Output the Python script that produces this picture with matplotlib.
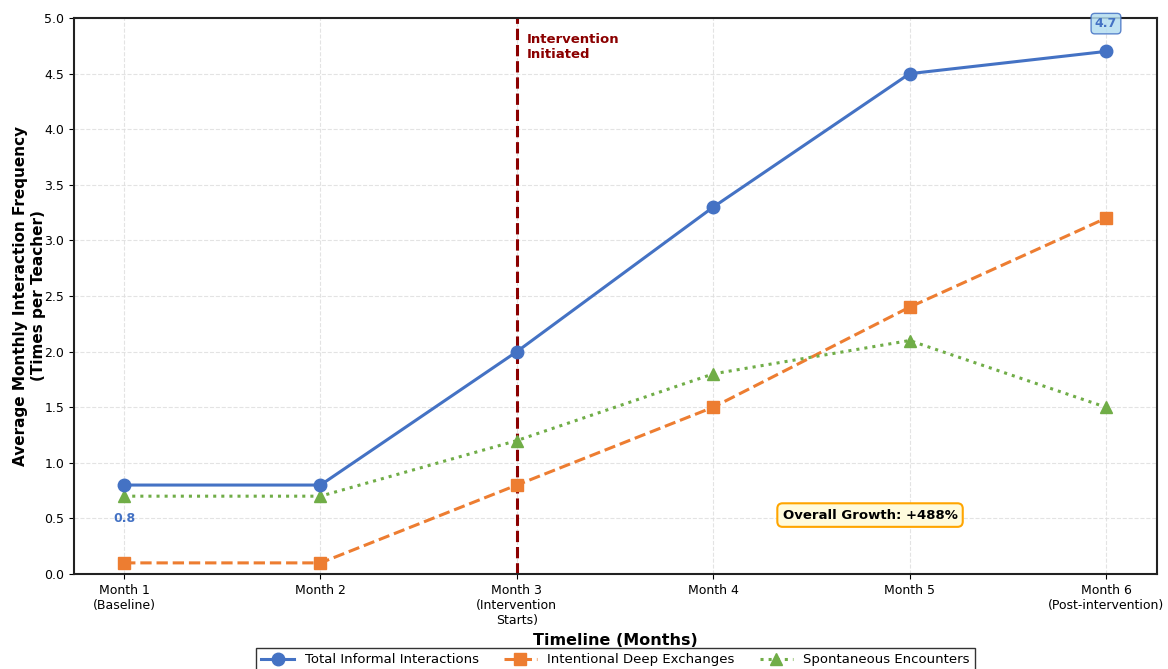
import matplotlib
matplotlib.use("Agg")
import matplotlib.pyplot as plt

# Dane
months = ["Month 1\n(Baseline)", "Month 2", "Month 3\n(Intervention\nStarts)",
          "Month 4", "Month 5", "Month 6\n(Post-intervention)"]
total = [0.8, 0.8, 2.0, 3.3, 4.5, 4.7]
deep = [0.1, 0.1, 0.8, 1.5, 2.4, 3.2]
spontaneous = [0.7, 0.7, 1.2, 1.8, 2.1, 1.5]

x = list(range(len(months)))

fig = plt.figure(figsize=(11.68, 6.69), dpi=100)
ax = fig.add_axes([0.0634, 0.142, 0.9272, 0.831])

ax.plot(x, total, color="#4472C4", linewidth=2.2, marker="o", markersize=9,
        label="Total Informal Interactions", zorder=4)
ax.plot(x, deep, color="#ED7D31", linewidth=2.2, linestyle="--", marker="s",
        markersize=8, label="Intentional Deep Exchanges", zorder=3)
ax.plot(x, spontaneous, color="#70AD47", linewidth=2.2, linestyle=":", marker="^",
        markersize=8, label="Spontaneous Encounters", zorder=3)

# Linia interwencji
ax.axvline(2, color="#8B0000", linestyle="--", linewidth=2.2, zorder=2)
ax.text(2.05, 4.74, "Intervention\nInitiated", color="#8B0000", fontsize=9.5,
        fontweight="bold", va="center", ha="left")

# Adnotacje
ax.text(0, 0.5, f"{total[0]}", color="#4472C4", fontsize=9, fontweight="bold",
        ha="center", va="center")
ax.text(5, 4.95, f"{total[-1]}", color="#4472C4", fontsize=9, fontweight="bold",
        ha="center", va="center",
        bbox=dict(boxstyle="round,pad=0.3", facecolor="#B4DDF0", edgecolor="#4472C4",
                  alpha=0.85))
ax.text(0.735, 0.106, "Overall Growth: +488%", transform=ax.transAxes,
        fontsize=9.5, fontweight="bold", ha="center", va="center",
        bbox=dict(boxstyle="round,pad=0.4", facecolor="#FFFBDD", edgecolor="#FFA500",
                  linewidth=1.5))

ax.set_xlim(-0.255, 5.26)
ax.set_ylim(0, 5)
ax.set_yticks([i * 0.5 for i in range(11)])
ax.set_yticklabels([f"{i * 0.5:.1f}" for i in range(11)], fontsize=9)
ax.set_xticks(x)
ax.set_xticklabels(months, fontsize=9)
ax.grid(True, linestyle="--", color="#dddddd", linewidth=0.8, alpha=0.8)
ax.set_axisbelow(True)
for s in ax.spines.values():
    s.set_linewidth(1.5)
    s.set_color("#222222")

ax.set_xlabel("Timeline (Months)", fontsize=11.5, fontweight="bold")
ax.xaxis.set_label_coords(0.5, -0.106)
ax.set_ylabel("Average Monthly Interaction Frequency\n(Times per Teacher)",
              fontsize=11, fontweight="bold")
ax.yaxis.set_label_coords(-0.026, 0.5)

leg = ax.legend(loc="upper center", bbox_to_anchor=(0.5, -0.121), ncol=3,
                fontsize=9.5, frameon=True, fancybox=False, edgecolor="black",
                handlelength=2.5, columnspacing=1.9)
leg.get_frame().set_linewidth(1.0)

fig.savefig("out.png", dpi=100)
